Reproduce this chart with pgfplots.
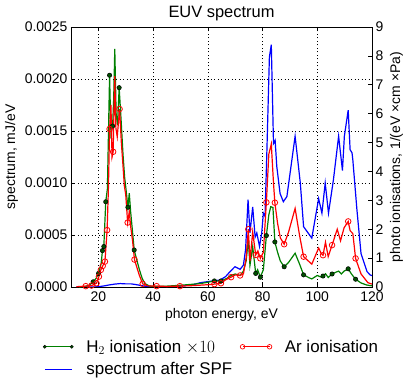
\documentclass[border=0pt]{standalone}
\usepackage{fontspec}
\setmainfont{Liberation Sans}
\usepackage{pgfplots}
\pgfplotsset{compat=1.18}
\definecolor{mplgreen}{RGB}{0,128,0}
\definecolor{dotgreen}{RGB}{0,80,0}

% EUV spectrum (blue, left axis, mJ/eV)
\pgfplotstableread{
E val
12 0
18 0
20 0.000003
22 0.000010
24 0.000020
26 0.000028
28 0.000033
30 0.000030
32 0.000030
34 0.000022
36 0.000012
38 0.000003
40 0
45 0.000002
50 0.000008
55 0.000025
57.2 0.000041
60 0.000052
64.5 0.000067
66.5 0.000100
68.1 0.000147
69.9 0.000195
71.8 0.000170
73.0 0.000210
73.8 0.000360
74.7 0.000840
75.4 0.000520
76.4 0.000770
77.3 0.000480
77.9 0.000520
78.9 0.000390
79.7 0.000520
80.3 0.000710
80.9 0.000680
81.6 0.001320
82.5 0.002210
83.2 0.002330
84.0 0.001380
84.6 0.001410
85.2 0.001160
86.4 0.000900
87.6 0.000820
88.9 0.000870
91.9 0.001450
93.8 0.001000
95.0 0.000580
98.0 0.000470
100.5 0.000850
101.7 0.000710
102.9 0.001000
104.1 0.000710
105.9 0.001030
107.8 0.001450
109.2 0.001120
109.9 0.001450
111.3 0.001700
112.0 0.001320
112.7 0.001290
113.0 0.001220
114.5 0.000740
116.0 0.000320
118.2 0.000147
119.4 0.000115
120 0.000110
}\spf

% H2 ionisation x10 (right axis, 1e7)
\pgfplotstableread{
E val
13 0.00
15 0.02
16.5 0.05
18.1 0.18
19.2 0.30
20.07 0.47
21.0 0.80
21.5 1.26
22.0 1.40
22.7 2.95
23.3 3.40
24.1 7.33
24.6 5.30
25.2 5.57
25.6 6.50
26.0 8.24
26.5 6.00
27.0 5.60
27.6 6.90
28.3 5.80
29.0 4.60
29.6 3.80
30.2 3.30
30.8 2.76
31.3 3.25
31.8 2.60
32.4 2.00
33.1 1.28
34.0 0.95
35.0 0.60
36.0 0.30
37.0 0.12
38.5 0.04
40 0.02
45 0.03
50 0.06
55 0.10
58 0.13
62.4 0.21
64.8 0.21
67 0.30
68.5 0.40
70 0.45
71.8 0.40
73.0 0.55
74.0 0.90
74.8 1.63
75.4 0.75
76.4 1.40
77.5 0.47
78.2 0.60
79.2 0.34
80.3 0.60
81.4 1.78
82.3 2.50
83.0 2.78
83.8 2.75
84.5 1.56
85.5 1.20
86.5 0.90
87.9 0.70
89.5 0.85
91.9 1.17
93.5 0.80
95.0 0.42
97.0 0.32
98.0 0.28
100.0 0.40
101.2 0.35
102.1 0.38
103.0 0.46
104.0 0.33
105.4 0.45
107.0 0.52
107.8 0.55
108.8 0.45
109.8 0.55
111.3 0.63
112.5 0.45
114.0 0.27
116.0 0.14
118.0 0.07
120.0 0.04
}\htwo

\pgfplotstableread{
E val
18.1 0.18
20.07 0.47
21.5 1.26
22.0 1.40
22.7 2.95
24.1 7.33
25.2 5.57
27.6 6.90
30.8 2.76
33.1 1.28
62.4 0.21
64.8 0.21
77.5 0.47
79.2 0.34
81.4 1.78
84.5 1.56
87.9 0.70
95.0 0.42
102.1 0.38
105.4 0.45
111.3 0.63
114.0 0.27
}\htwomarks

% Ar ionisation (right axis, 1e7)
\pgfplotstableread{
E val
12 0.01
13.5 0.02
15.4 0.03
16.5 0.04
17.5 0.05
18.5 0.09
19.33 0.13
20.2 0.36
20.9 0.59
21.6 0.73
22.4 0.88
23.2 1.97
23.7 3.50
24.1 5.47
24.6 6.30
25.0 4.50
25.4 4.68
25.7 6.00
26.0 7.30
26.4 5.50
26.9 5.20
27.75 6.16
28.4 5.00
29.0 4.20
29.5 3.50
30.0 3.20
30.7 2.23
31.3 2.60
31.8 2.10
32.5 1.60
33.2 0.95
34.0 0.70
35.0 0.40
36.2 0.11
38.0 0.04
41.3 0.03
45 0.02
49.8 0.03
55 0.05
60 0.08
62.4 0.10
64.8 0.13
66.5 0.25
68.5 0.34
70.0 0.42
71.8 0.40
73.0 0.45
74.0 1.00
74.8 2.00
75.4 0.90
76.4 1.90
77.5 1.11
78.3 1.25
79.2 0.99
80.3 1.20
81.4 2.93
82.3 4.60
83.2 4.95
84.0 3.60
84.5 2.92
85.5 2.20
86.5 1.70
87.9 1.48
89.5 1.90
91.9 2.72
93.5 1.80
95.0 1.05
98.0 0.79
100.5 1.35
101.5 1.15
102.1 1.10
103.0 1.55
104.0 1.05
105.4 1.45
107.3 2.00
108.5 1.60
109.8 2.05
111.3 2.27
112.0 1.95
113.0 1.85
114.0 0.99
116.0 0.45
118.5 0.15
120 0.10
}\ar

\pgfplotstableread{
E val
15.4 0.03
17.5 0.05
19.33 0.13
20.2 0.36
20.9 0.59
21.6 0.73
22.4 0.88
23.2 1.97
24.1 5.47
25.4 4.68
27.75 6.16
30.7 2.23
33.2 0.95
36.2 0.11
41.3 0.03
49.8 0.03
62.4 0.10
64.8 0.13
68.5 0.34
71.8 0.40
74.8 2.00
77.5 1.11
79.2 0.99
81.4 2.93
84.5 2.92
87.9 1.48
95.0 1.05
102.1 1.10
105.4 1.45
111.3 2.27
114.0 0.99
}\armarks

\pgfplotsset{
    common/.style={
        scale only axis,
        width=301bp, height=260bp,
        xmin=10, xmax=120,
        tick align=inside,
        major tick length=4bp,
        tick style={black, line width=0.6bp},
        axis line style={line width=0.8bp},
        /pgf/number format/assume math mode=true,
        tick label style={font=\fontsize{14}{16}\selectfont},
        label style={font=\fontsize{14}{16}\selectfont},
    },
}

\begin{document}
\begin{tikzpicture}
\begin{axis}[common,
    ymin=0, ymax=0.0025,
    xtick={20,40,60,80,100,120},
    ytick={0,0.0005,0.001,0.0015,0.002,0.0025},
    ytick pos=left,
    scaled y ticks=false,
    xticklabel style={yshift=-1.5bp},
    yticklabel style={/pgf/number format/.cd, fixed, fixed zerofill, precision=4},
    grid=major,
    grid style={black, line width=0.5bp, dash pattern=on 1bp off 2.5bp},
    title={EUV spectrum},
    title style={font=\fontsize{16.5}{18}\selectfont, yshift=-3bp},
    xlabel={photon energy, eV},
    ylabel={spectrum, mJ/eV},
]
\addplot[blue, line width=1.2bp] table[x=E, y=val] {\spf};
\end{axis}
\begin{axis}[common,
    ymin=0, ymax=9,
    ytick={0,1,...,9},
    hide x axis,
    ytick pos=right,
    yticklabel pos=right,
    ylabel={photo ionisations, 1/(eV ×cm ×Pa)},
    legend columns=2,
    legend cell align=left,
    legend style={at={(-0.093,-0.195)}, anchor=north west, draw=none, fill=none,
        inner sep=0pt, row sep=5bp,
        font=\fontsize{17}{20}\selectfont,
        /tikz/every odd column/.append style={column sep=11bp},
        /tikz/every even column/.append style={column sep=6bp}},
    legend image code/.code={\draw[#1] plot coordinates {(0bp,0bp) (27bp,0bp)};},
]
\addplot[mplgreen, line width=1.2bp, forget plot] table[x=E, y=val] {\htwo};
\addplot[only marks, mark=*, mark size=2.2bp, mark options={fill=dotgreen, draw=black, line width=0.5bp}, forget plot] table[x=E, y=val] {\htwomarks};
\addplot[red, line width=1.2bp, forget plot] table[x=E, y=val] {\ar};
\addplot[only marks, mark=o, mark size=2.8bp, mark options={fill=white, draw=red, line width=0.8bp}, forget plot] table[x=E, y=val] {\armarks};
\addlegendimage{draw=mplgreen, line width=1.2bp, mark=*, mark size=1.6bp, mark options={fill=dotgreen, draw=black, line width=0.4bp}}
\addlegendentry{H$_2$ ionisation $\times10$}
\addlegendimage{draw=red, line width=1.2bp, mark=o, mark size=2.3bp, mark options={fill=white, draw=red, line width=0.7bp}}
\addlegendentry{Ar ionisation}
\addlegendimage{draw=blue, line width=1.3bp}
\addlegendentry{spectrum after SPF}
\node[anchor=south east, font=\fontsize{14}{16}\selectfont, inner sep=0pt] at (rel axis cs:0.995,1.02) {1e7};
\end{axis}
\pgfresetboundingbox
\path (-71bp,-100bp) rectangle (344bp,287bp);
\end{tikzpicture}
\end{document}
